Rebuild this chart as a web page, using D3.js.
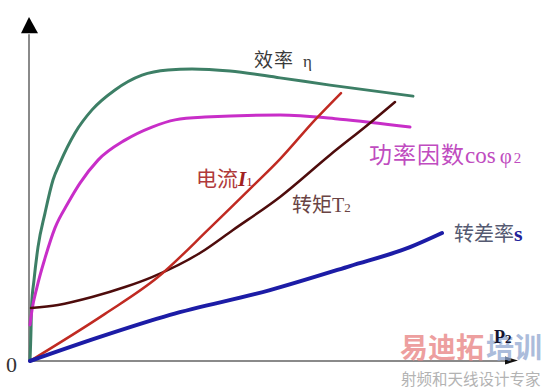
<!DOCTYPE html>
<html>
<head>
<meta charset="utf-8">
<script src="https://cdn.jsdelivr.net/npm/d3@7"></script>
<style>
  html, body { margin: 0; padding: 0; background: #fff; }
  svg { display: block; }
  text { font-family: "Liberation Serif", "Noto Sans CJK SC", serif; }
</style>
</head>
<body>
<svg id="chart" width="557" height="389"></svg>
<script>
// ---- data (P2 load on x, relative value on y; 0..100 units) ----
const effX = [0, 0.2, 0.3, 0.8, 1.6, 3, 4.6, 6, 9, 12.4, 17, 22.4, 27.6, 32.4, 40, 50, 60, 76.6];
const effY = [0, 9.0, 15.7, 23.5, 33.1, 43.0, 52.6, 57.6, 66.3, 73.0, 78.8, 83.1, 84.6, 84.9, 84.3, 82.3, 80.2, 77.0];

const pfX = [0, 0.4, 1.4, 3, 5, 7.6, 10, 13.6, 19, 24.4, 29, 35, 50, 62, 76];
const pfY = [10.5, 14.8, 21.5, 29.9, 38.7, 45.9, 51.7, 58.4, 64.2, 68.0, 70.1, 70.9, 71.5, 70.3, 68.0];

const torqueX = [0.2, 5.6, 12.4, 19, 24.4, 34, 40.6, 50, 60, 68, 73];
const torqueY = [15.4, 16.3, 18.6, 21.5, 24.4, 31.4, 38.1, 47.7, 59.9, 69.2, 75.3];

const currentX = [0, 15, 25.6, 36, 44.6, 50, 57, 62.2];
const currentY = [0, 13.7, 24.4, 38.7, 50.9, 58.7, 70.1, 77.9];

const slipX = [0, 14, 28, 48, 64, 76, 82.4];
const slipY = [0, 7.0, 13.4, 20.6, 27.6, 33.1, 37.2];

const axisLabels = { origin: "0", x: "P", xSub: "2" };

// ---- scales ----
const svg = d3.select("#chart");
const x = d3.scaleLinear().domain([0, 100]).range([30, 530]);
const y = d3.scaleLinear().domain([0, 100]).range([361, 17]);

const line = d3.line().x(d => x(d[0])).y(d => y(d[1])).curve(d3.curveMonotoneX);
const zip = (a, b) => a.map((v, i) => [v, b[i]]);

// ---- axes ----
svg.append("line")
  .attr("x1", x(0) - 1).attr("y1", y(0)).attr("x2", x(0) - 1).attr("y2", y(95))
  .attr("stroke", "#8a8a8a").attr("stroke-width", 2);
svg.append("path")
  .attr("d", `M${x(0)-1},${y(100)} L${x(0)-9},${y(95.3)} L${x(0)+8},${y(95.3)} Z`)
  .attr("fill", "#000");
svg.append("line")
  .attr("x1", x(0) - 1).attr("y1", y(0)).attr("x2", x(95.5)).attr("y2", y(0))
  .attr("stroke", "#8a8a8a").attr("stroke-width", 2);
svg.append("path")
  .attr("d", `M${x(97.6)},${y(0)-0.5} L${x(95)},${y(0)-4.5} L${x(95)},${y(0)+3.5} Z`)
  .attr("fill", "#111");

// ---- curves ----
const series = [
  { xs: effX, ys: effY, color: "#3d7f66", w: 3 },
  { xs: pfX, ys: pfY, color: "#c82ec8", w: 3 },
  { xs: torqueX, ys: torqueY, color: "#4e0c0c", w: 2.5 },
  { xs: currentX, ys: currentY, color: "#c02a22", w: 2.5 },
  { xs: slipX, ys: slipY, color: "#1c1ca6", w: 4 }
];
series.forEach(s => {
  svg.append("path")
    .attr("d", line(zip(s.xs, s.ys)))
    .attr("fill", "none")
    .attr("stroke", s.color)
    .attr("stroke-width", s.w)
    .attr("stroke-linecap", "round");
});

// ---- watermark (drawn beneath the axis labels) ----
const wm = svg.append("g").attr("opacity", 0.75);
wm.append("text").attr("x", 400).attr("y", 358).attr("font-size", 28).attr("font-weight", "bold")
  .attr("fill", "#e88080").style("font-family", "Noto Sans CJK SC").text("易迪拓");
wm.append("text").attr("x", 486).attr("y", 358).attr("font-size", 28).attr("font-weight", "bold")
  .attr("fill", "#8fa6d0").style("font-family", "Noto Sans CJK SC").text("培训");
wm.append("text").attr("x", 401).attr("y", 385).attr("font-size", 15.5)
  .attr("fill", "#9a9a9a").style("font-family", "Noto Sans CJK SC").text("射频和天线设计专家");

// ---- labels ----
function label(px, py, parts, size) {
  const t = svg.append("text").attr("x", px).attr("y", py).attr("font-size", size);
  parts.forEach(p => {
    const ts = t.append("tspan").text(p.t).attr("fill", p.c);
    if (p.fs) ts.attr("font-size", p.fs);
    if (p.fw) ts.attr("font-weight", p.fw);
    if (p.fi) ts.attr("font-style", "italic");
    if (p.dx) ts.attr("dx", p.dx);
    if (p.ls) ts.attr("letter-spacing", p.ls);
  });
}

label(254, 67, [{ t: "效率", c: "#3a3a3a", ls: 1 }, { t: "η", c: "#3a3a3a", dx: 9, fs: 17 }], 19);
label(369, 163, [{ t: "功率因数", c: "#c04cc0", ls: 1 }, { t: "cos", c: "#c04cc0", fs: 23 }, { t: "φ", c: "#c04cc0", dx: 4, fs: 21 }, { t: "2", c: "#c04cc0", dx: 2, fs: 15 }], 23);
label(196, 186, [{ t: "电流", c: "#b03a3a" }, { t: "I", c: "#a02020", fi: true, fw: "bold", fs: 21 }, { t: "1", c: "#a02020", fs: 13 }], 21);
label(292, 212, [{ t: "转矩", c: "#6a4444" }, { t: "T", c: "#6a4444", fs: 20 }, { t: "2", c: "#6a4444", fs: 13 }], 20);
label(454, 241, [{ t: "转差率", c: "#555a72" }, { t: "s", c: "#22229a", fw: "bold", fs: 22 }], 20);
label(6, 372, [{ t: axisLabels.origin, c: "#333" }], 22);
label(494, 343, [{ t: axisLabels.x, c: "#151530", fw: "bold" }, { t: axisLabels.xSub, c: "#151530", fw: "bold", fs: 13 }], 18);
</script>
</body>
</html>
